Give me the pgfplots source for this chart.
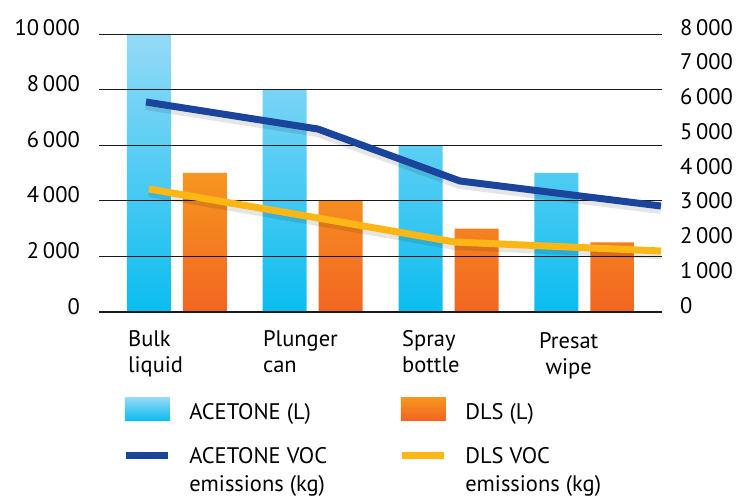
\documentclass[border=0pt]{standalone}
\usepackage{pgfplots}
\pgfplotsset{compat=1.18}
\usepackage{fontspec}
\setmainfont{PT Sans}

\definecolor{acetTop}{HTML}{95DAF7}
\definecolor{acetBot}{HTML}{0BBDEF}
\definecolor{dlsTop}{HTML}{F7961F}
\definecolor{dlsBot}{HTML}{F26522}
\definecolor{acetLine}{HTML}{1B449C}
\definecolor{dlsLine}{HTML}{FDB714}
\definecolor{gridc}{HTML}{1A1A1A}

\newcommand{\bigfont}{\fontsize{22.5}{26}\selectfont}

\begin{document}
\begin{tikzpicture}
\path[use as bounding box] (-99pt,-188pt) rectangle (647pt,312pt);
\begin{axis}[
  name=ax,
  width=563pt, height=278pt, scale only axis,
  xmin=-0.574, xmax=3.572,
  ymin=0, ymax=10000,
  ytick={0,2000,4000,6000,8000,10000},
  scaled y ticks=false,
  /pgf/number format/1000 sep={\,},
  /pgf/number format/assume math mode=true,
  axis line style={draw=none},
  tick style={draw=none},
  ymajorgrids, grid style={gridc, line width=0.8pt},
  extra y ticks={0}, extra y tick labels={},
  extra y tick style={grid style={gridc, line width=1.8pt}},
  axis on top,
  xtick={-0.361,0.633,1.657,2.666},
  xticklabels={{Bulk\\liquid},{Plunger\\can},{Spray\\bottle},{\begin{tabular}{@{}c@{}}Presat\\wipe\end{tabular}}},
  xticklabel style={anchor=north west, inner sep=0pt, align=left, yshift=-18pt, font=\bigfont},
  yticklabel style={anchor=base east, inner sep=0pt, xshift=-19pt, yshift=-2pt, font=\bigfont},
]
\addplot[ybar, bar width=44pt, bar shift=-28pt, draw=none, top color=acetTop, bottom color=acetBot]
  coordinates {(0,10000) (1,8000) (2,6000) (3,5000)};
\addplot[ybar, bar width=44pt, bar shift=28pt, draw=none, top color=dlsTop, bottom color=dlsBot]
  coordinates {(0,5000) (1,4000) (2,3000) (3,2500)};
\end{axis}
\begin{axis}[
  width=563pt, height=278pt, scale only axis,
  xmin=-0.574, xmax=3.572,
  ymin=0, ymax=8000,
  ytick={0,1000,...,8000},
  scaled y ticks=false,
  /pgf/number format/1000 sep={\,},
  /pgf/number format/assume math mode=true,
  axis line style={draw=none},
  tick style={draw=none},
  xtick=\empty,
  yticklabel pos=right,
  yticklabel style={anchor=base west, inner sep=0pt, xshift=18pt, yshift=-1pt, font=\bigfont},
  legend columns=2,
  legend style={at={(axis description cs:0.041,-0.306)}, anchor=north west, draw=none, fill=none,
    inner sep=0pt, column sep=18pt, row sep=27pt, font=\bigfont,
    cells={anchor=base west}, nodes={inner sep=0pt}},
]
% soft shadows under the lines
\addplot[black, draw opacity=0.10, line width=10pt, line join=round, forget plot, transform canvas={yshift=-3pt}]
  coordinates {(-0.228,6043) (1.038,5266) (2.084,3770) (3.564,3050)};
\addplot[black, draw opacity=0.10, line width=10pt, line join=round, forget plot, transform canvas={yshift=-3pt}]
  coordinates {(-0.206,3540) (1.038,2705) (2.047,2014) (3.564,1755)};
\addlegendimage{legend image code/.code={\shade[draw=none, top color=acetTop,bottom color=acetBot] (0pt,-1pt) rectangle (45pt,22pt);}}
\addlegendentry{\makebox[191pt][l]{ACETONE (L)}}
\addlegendimage{legend image code/.code={\shade[draw=none, top color=dlsTop,bottom color=dlsBot] (0pt,-1pt) rectangle (45pt,22pt);}}
\addlegendentry{\makebox[191pt][l]{DLS (L)}}
\addplot[acetLine, line width=7pt, line join=round,
  legend image code/.code={\draw[acetLine, line width=7pt] (1pt,8pt) -- (43pt,8pt); \path[draw=none, fill=none] (0pt,0pt) rectangle (45pt,1pt);}]
  coordinates {(-0.228,6043) (1.038,5266) (2.084,3770) (3.564,3050)};
\addlegendentry{\parbox[t]{191pt}{\fontsize{22.5}{28}\selectfont ACETONE VOC\\emissions (kg)}}
\addplot[dlsLine, line width=7pt, line join=round,
  legend image code/.code={\draw[dlsLine, line width=7pt] (1pt,8pt) -- (43pt,8pt); \path[draw=none, fill=none] (0pt,0pt) rectangle (45pt,1pt);}]
  coordinates {(-0.206,3540) (1.038,2705) (2.047,2014) (3.564,1755)};
\addlegendentry{\parbox[t]{191pt}{\fontsize{22.5}{28}\selectfont DLS VOC\\emissions (kg)}}
\end{axis}
\end{tikzpicture}
\end{document}
